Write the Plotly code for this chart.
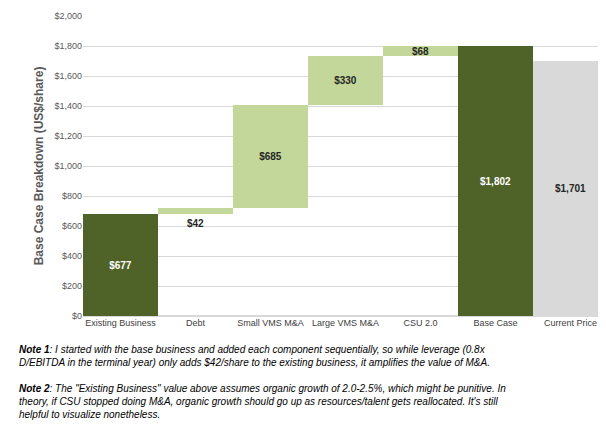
import plotly.graph_objects as go

categories = ["Existing Business", "Debt", "Small VMS M&A", "Large VMS M&A", "CSU 2.0", "Base Case", "Current Price"]
values = [677, 42, 685, 330, 68, 1802, 1701]
bases = [0, 677, 719, 1404, 1734, 0, 0]
labels = ["$677", "$42", "$685", "$330", "$68", "$1,802", "$1,701"]
colors = ["#4F6228", "#C4D79B", "#C4D79B", "#C4D79B", "#C4D79B", "#4F6228", "#D9D9D9"]
text_colors = ["white", "#262626", "#262626", "#262626", "#262626", "white", "#262626"]
tick_vals = list(range(0, 2001, 200))
tick_text = ["$" + format(v, ",") for v in tick_vals]

shown = [l if i != 1 else "" for i, l in enumerate(labels)]
fig = go.Figure(go.Bar(
    x=categories, y=values, base=bases, marker_color=colors, marker_line_width=0,
    text=shown, textposition="inside", insidetextanchor="middle", constraintext="none",
    textangle=0, cliponaxis=False,
    textfont=dict(color=text_colors, size=10, family="Liberation Sans"),
    texttemplate="<b>%{text}</b>", hoverinfo="skip"))

fig.add_annotation(x=categories[1], y=bases[1], text="<b>$42</b>", showarrow=False,
                   yanchor="top", yshift=-2, font=dict(size=10, color="#262626", family="Liberation Sans"))

notes = ("<b><i>Note 1</i></b><i>: I started with the base business and added each component sequentially, so while leverage (0.8x<br>"
         "D/EBITDA in the terminal year) only adds $42/share to the existing business, it amplifies the value of M&A.</i><br><br>"
         "<b><i>Note 2</i></b><i>: The \"Existing Business\" value above assumes organic growth of 2.0-2.5%, which might be punitive. In<br>"
         "theory, if CSU stopped doing M&A, organic growth should go up as resources/talent gets reallocated. It's still<br>"
         "helpful to visualize nonetheless.</i>")
fig.add_annotation(xref="paper", yref="paper", x=-0.125, y=-0.085, xanchor="left", yanchor="top",
                   text=notes, showarrow=False, align="left",
                   font=dict(size=10, color="black", family="Liberation Sans"))

fig.update_layout(
    width=606, height=428, margin=dict(l=75, r=6, t=8, b=120, autoexpand=False),
    plot_bgcolor="white", paper_bgcolor="white", bargap=0, showlegend=False,
    font=dict(family="Liberation Sans", size=9, color="#595959"),
    xaxis=dict(showline=False, ticks="", tickfont=dict(size=9, color="#404040")),
    yaxis=dict(range=[0, 2000], tickvals=tick_vals, ticktext=tick_text, showgrid=True,
               gridcolor="#D9D9D9", zeroline=True, zerolinecolor="#D9D9D9",
               tickfont=dict(size=9, color="#595959"),
               title=dict(text="<b>Base Case Breakdown (US$/share)</b>", font=dict(size=12, color="#595959"), standoff=8)),
)
fig.write_html("out.html")
